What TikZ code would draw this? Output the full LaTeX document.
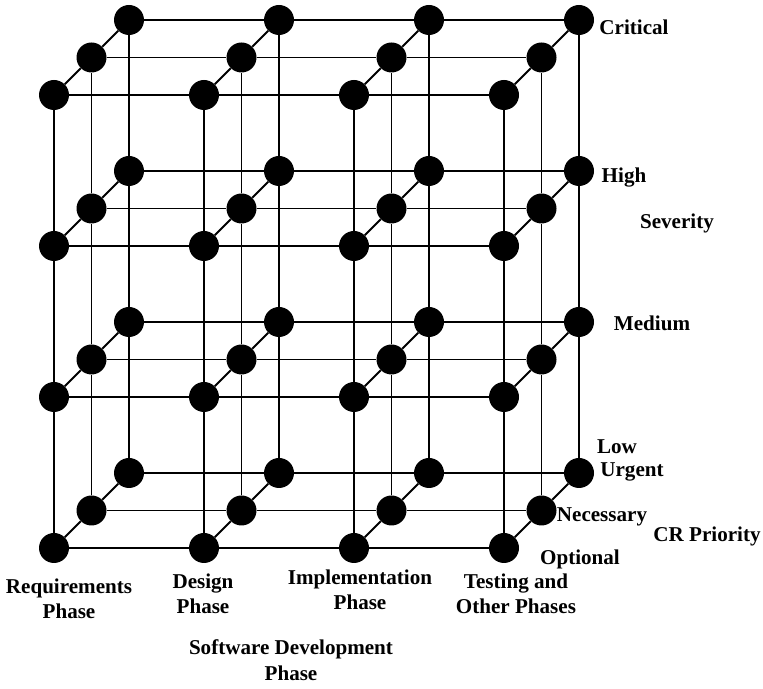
\documentclass[tikz,border=0pt]{standalone}
\usepackage{fontspec}
\setmainfont{Liberation Serif}
\usepackage{tikz}

\begin{document}
\begin{tikzpicture}[dot/.style={circle,fill=black,minimum size=0.6cm,inner sep=0pt},edge/.style={black,line width=1.1pt},lbl/.style={align=center,font=\fontsize{12}{14.5}\selectfont\bfseries,inner sep=0pt}]
\useasboundingbox (0,0) rectangle (15.26,-13.78);
% back layer (Urgent)
\node[dot] (u00) at (2.58,-9.46) {};
\node[dot] (u01) at (2.58,-6.44) {};
\node[dot] (u02) at (2.58,-3.42) {};
\node[dot] (u03) at (2.58,-0.40) {};
\node[dot] (u10) at (5.58,-9.46) {};
\node[dot] (u11) at (5.58,-6.44) {};
\node[dot] (u12) at (5.58,-3.42) {};
\node[dot] (u13) at (5.58,-0.40) {};
\node[dot] (u20) at (8.58,-9.46) {};
\node[dot] (u21) at (8.58,-6.44) {};
\node[dot] (u22) at (8.58,-3.42) {};
\node[dot] (u23) at (8.58,-0.40) {};
\node[dot] (u30) at (11.58,-9.46) {};
\node[dot] (u31) at (11.58,-6.44) {};
\node[dot] (u32) at (11.58,-3.42) {};
\node[dot] (u33) at (11.58,-0.40) {};
% middle layer (Necessary)
\node[dot] (n00) at (1.83,-10.21) {};
\node[dot] (n01) at (1.83,-7.19) {};
\node[dot] (n02) at (1.83,-4.17) {};
\node[dot] (n03) at (1.83,-1.15) {};
\node[dot] (n10) at (4.83,-10.21) {};
\node[dot] (n11) at (4.83,-7.19) {};
\node[dot] (n12) at (4.83,-4.17) {};
\node[dot] (n13) at (4.83,-1.15) {};
\node[dot] (n20) at (7.83,-10.21) {};
\node[dot] (n21) at (7.83,-7.19) {};
\node[dot] (n22) at (7.83,-4.17) {};
\node[dot] (n23) at (7.83,-1.15) {};
\node[dot] (n30) at (10.83,-10.21) {};
\node[dot] (n31) at (10.83,-7.19) {};
\node[dot] (n32) at (10.83,-4.17) {};
\node[dot] (n33) at (10.83,-1.15) {};
% front layer (Optional)
\node[dot] (o00) at (1.08,-10.96) {};
\node[dot] (o01) at (1.08,-7.94) {};
\node[dot] (o02) at (1.08,-4.92) {};
\node[dot] (o03) at (1.08,-1.90) {};
\node[dot] (o10) at (4.08,-10.96) {};
\node[dot] (o11) at (4.08,-7.94) {};
\node[dot] (o12) at (4.08,-4.92) {};
\node[dot] (o13) at (4.08,-1.90) {};
\node[dot] (o20) at (7.08,-10.96) {};
\node[dot] (o21) at (7.08,-7.94) {};
\node[dot] (o22) at (7.08,-4.92) {};
\node[dot] (o23) at (7.08,-1.90) {};
\node[dot] (o30) at (10.08,-10.96) {};
\node[dot] (o31) at (10.08,-7.94) {};
\node[dot] (o32) at (10.08,-4.92) {};
\node[dot] (o33) at (10.08,-1.90) {};
% rows along the phases
\draw[edge] (u00)--(u10)--(u20)--(u30);
\draw[edge] (u01)--(u11)--(u21)--(u31);
\draw[edge] (u02)--(u12)--(u22)--(u32);
\draw[edge] (u03)--(u13)--(u23)--(u33);
\draw[edge] (n00)--(n10)--(n20)--(n30);
\draw[edge] (n01)--(n11)--(n21)--(n31);
\draw[edge] (n02)--(n12)--(n22)--(n32);
\draw[edge] (n03)--(n13)--(n23)--(n33);
\draw[edge] (o00)--(o10)--(o20)--(o30);
\draw[edge] (o01)--(o11)--(o21)--(o31);
\draw[edge] (o02)--(o12)--(o22)--(o32);
\draw[edge] (o03)--(o13)--(o23)--(o33);
% columns along severity
\draw[edge] (u00)--(u01)--(u02)--(u03);
\draw[edge] (u10)--(u11)--(u12)--(u13);
\draw[edge] (u20)--(u21)--(u22)--(u23);
\draw[edge] (u30)--(u31)--(u32)--(u33);
\draw[edge] (n00)--(n01)--(n02)--(n03);
\draw[edge] (n10)--(n11)--(n12)--(n13);
\draw[edge] (n20)--(n21)--(n22)--(n23);
\draw[edge] (n30)--(n31)--(n32)--(n33);
\draw[edge] (o00)--(o01)--(o02)--(o03);
\draw[edge] (o10)--(o11)--(o12)--(o13);
\draw[edge] (o20)--(o21)--(o22)--(o23);
\draw[edge] (o30)--(o31)--(o32)--(o33);
% depth along priority
\draw[edge] (o00)--(n00)--(u00);
\draw[edge] (o01)--(n01)--(u01);
\draw[edge] (o02)--(n02)--(u02);
\draw[edge] (o03)--(n03)--(u03);
\draw[edge] (o10)--(n10)--(u10);
\draw[edge] (o11)--(n11)--(u11);
\draw[edge] (o12)--(n12)--(u12);
\draw[edge] (o13)--(n13)--(u13);
\draw[edge] (o20)--(n20)--(u20);
\draw[edge] (o21)--(n21)--(u21);
\draw[edge] (o22)--(n22)--(u22);
\draw[edge] (o23)--(n23)--(u23);
\draw[edge] (o30)--(n30)--(u30);
\draw[edge] (o31)--(n31)--(u31);
\draw[edge] (o32)--(n32)--(u32);
\draw[edge] (o33)--(n33)--(u33);
% labels
\node[lbl] (critical) at (12.68,-0.54) {Critical};
\node[lbl] (high) at (12.48,-3.56) {High};
\node[lbl] (severity) at (13.54,-4.46) {Severity};
\node[lbl] (medium) at (13.04,-6.46) {Medium};
\node[lbl] (low) at (12.34,-8.94) {Low};
\node[lbl] (urgent) at (12.64,-9.44) {Urgent};
\node[lbl] (necessary) at (12.04,-10.34) {Necessary};
\node[lbl] (crprio) at (14.14,-10.72) {CR Priority};
\node[lbl] (optional) at (11.60,-11.18) {Optional};
\node[lbl] (req) at (1.38,-11.98) {Requirements\\Phase};
\node[lbl] (design) at (4.06,-11.88) {Design\\Phase};
\node[lbl] (impl) at (7.20,-11.80) {Implementation\\Phase};
\node[lbl] (testing) at (10.32,-11.88) {Testing and\\Other Phases};
\node[lbl] (sdp) at (5.82,-13.20) {Software Development\\Phase};
\end{tikzpicture}
\end{document}
